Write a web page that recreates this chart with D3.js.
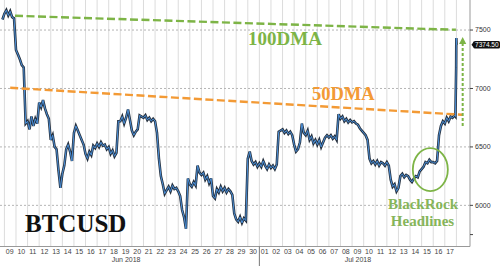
<!DOCTYPE html>
<html>
<head>
<meta charset="utf-8">
<script src="https://cdn.jsdelivr.net/npm/d3@7"></script>
<style>
  html, body { margin: 0; padding: 0; background: #fff; }
  svg { display: block; }
</style>
</head>
<body>
<div id="chart"></div>
<script>
const width = 500, height = 266;

// BTCUSD, one value every 4 hours from Jun 8 20:00
const start = new Date(Date.UTC(2018, 5, 8, 20));
const stepHours = 4;
const prices = [
  7590,
  7640, 7670, 7625, 7660, 7610, 7600,   // Jun 9
  7330, 7290, 7250, 7200, 7180, 6700,   // Jun 10
  6720, 6650, 6760, 6680, 6740, 6700,   // Jun 11
  6880, 6840, 6900, 6830, 6780, 6740,   // Jun 12
  6560, 6600, 6500, 6480, 6300, 6150,   // Jun 13
  6270, 6340, 6480, 6520, 6460, 6380,   // Jun 14
  6620, 6680, 6640, 6600, 6560, 6520,   // Jun 15
  6440, 6400, 6460, 6430, 6510, 6490,   // Jun 16
  6530, 6500, 6540, 6510, 6520, 6480,   // Jun 17
  6500, 6440, 6470, 6420, 6450, 6720,   // Jun 18
  6720, 6760, 6700, 6750, 6820, 6730,   // Jun 19
  6640, 6600, 6630, 6650, 6770, 6760,   // Jun 20
  6750, 6770, 6730, 6750, 6720, 6740,   // Jun 21
  6720, 6620, 6400, 6250, 6180, 6100,   // Jun 22
  6130, 6160, 6120, 6170, 6140, 6150,   // Jun 23
  6120, 6080, 5960, 5900, 5800, 6230,   // Jun 24
  6180, 6160, 6200, 6170, 6340, 6280,   // Jun 25
  6260, 6280, 6220, 6250, 6190, 6230,   // Jun 26
  6080, 6060, 6140, 6110, 6160, 6120,   // Jun 27
  6150, 6110, 6140, 6120, 6090, 5930,   // Jun 28
  5880, 5860, 5900, 5850, 5890, 5870,   // Jun 29
  6400, 6460, 6380, 6350, 6370, 6330,   // Jun 30
  6360, 6330, 6380, 6340, 6310, 6350,   // Jul 1
  6320, 6340, 6310, 6350, 6630, 6640,   // Jul 2
  6650, 6620, 6640, 6610, 6630, 6600,   // Jul 3
  6520, 6460, 6480, 6540, 6700, 6620,   // Jul 4
  6600, 6640, 6560, 6590, 6530, 6560,   // Jul 5
  6520, 6560, 6500, 6540, 6580, 6600,   // Jul 6
  6580, 6600, 6570, 6590, 6560, 6780,   // Jul 7
  6740, 6760, 6720, 6740, 6710, 6730,   // Jul 8
  6710, 6720, 6700, 6690, 6660, 6640,   // Jul 9
  6620, 6600, 6560, 6400, 6360, 6380,   // Jul 10
  6350, 6380, 6340, 6370, 6360, 6340,   // Jul 11
  6370, 6340, 6220, 6160, 6180, 6120,   // Jul 12
  6150, 6250, 6270, 6240, 6260, 6250,   // Jul 13
  6220, 6200, 6230, 6250, 6240, 6290,   // Jul 14
  6310, 6330, 6370, 6360, 6390, 6370,   // Jul 15
  6370, 6360, 6380, 6600, 6680, 6720,   // Jul 16
  6700, 6750, 6720, 6760, 6750, 6770    // Jul 17
];
// the late Jul 17 surge
const tailTimes = ["2018-07-17T22:00Z", "2018-07-17T23:30Z", "2018-07-17T23:50Z", "2018-07-18T00:20Z"];
const tailPrices = [6760, 7180, 7432, 7374.5];
const lastPrice = 7374.5;

const yTicks = [7500, 7000, 6500, 6000];
const yMinorTicks = [5750];
const dma100 = [["2018-06-09T22:00Z", 7622], ["2018-07-17T23:00Z", 7502]];
const dma50 = [["2018-06-09T12:00Z", 7006], ["2018-07-18T12:00Z", 6775]];
const arrowTime = "2018-07-18T13:00Z";
const arrowFrom = 6680, arrowTo = 7440;
const circleAt = ["2018-07-15T18:00Z", 6306];
const months = [["2018-06-19T12:00Z", "Jun 2018"], ["2018-07-09T12:00Z", "Jul 2018"]];
const monthBreak = "2018-07-01T00:00Z";

const series = prices.map((p, i) => ({ t: d3.utcHour.offset(start, i * stepHours), p: p }))
  .concat(tailTimes.map((t, i) => ({ t: new Date(t), p: tailPrices[i] })));

const plotRight = 470, plotBottom = 246.5;

const x = d3.scaleUtc()
  .domain([new Date(Date.UTC(2018, 5, 9)), new Date(Date.UTC(2018, 6, 18))])
  .range([4.4, 456.4]);
const y = d3.scaleLinear()
  .domain([5648, 7757])
  .range([plotBottom, 0]);

const svg = d3.select("#chart").append("svg")
  .attr("width", width)
  .attr("height", height)
  .style("font-family", "'Liberation Sans', Arial, sans-serif");

// vertical day grid
const days = d3.utcDay.range(x.domain()[0], d3.utcDay.offset(x.domain()[1], 1));
svg.append("g").selectAll("line")
  .data(days).enter()
  .append("line")
  .attr("x1", d => x(d)).attr("x2", d => x(d))
  .attr("y1", 0).attr("y2", plotBottom)
  .attr("stroke", "#dcdcdc")
  .attr("stroke-width", 1);

// horizontal dotted grid
svg.append("g").selectAll("line")
  .data(yTicks).enter()
  .append("line")
  .attr("x1", 0).attr("x2", plotRight)
  .attr("y1", d => y(d)).attr("y2", d => y(d))
  .attr("stroke", "#b5b5b5")
  .attr("stroke-dasharray", "2,2");

// price line
const line = d3.line().x(d => x(d.t)).y(d => y(d.p));
svg.append("path").datum(series)
  .attr("fill", "none")
  .attr("stroke", "#26313f")
  .attr("stroke-width", 2.6)
  .attr("stroke-linejoin", "miter")
  .attr("d", line);
svg.append("path").datum(series)
  .attr("fill", "none")
  .attr("stroke", "#4a8fd8")
  .attr("stroke-width", 1)
  .attr("d", line);

// moving averages
const maLine = d3.line().x(d => x(new Date(d[0]))).y(d => y(d[1]));
svg.append("path").datum(dma100)
  .attr("fill", "none").attr("stroke", "#7db446")
  .attr("stroke-width", 2.4).attr("stroke-dasharray", "8,3.5")
  .attr("d", maLine);
svg.append("path").datum(dma50)
  .attr("fill", "none").attr("stroke", "#f39a35")
  .attr("stroke-width", 2.4).attr("stroke-dasharray", "8,3.5")
  .attr("d", maLine);

// arrow up
const ax = x(new Date(arrowTime));
svg.append("line")
  .attr("x1", ax).attr("x2", ax)
  .attr("y1", y(arrowFrom)).attr("y2", y(arrowTo) + 6)
  .attr("stroke", "#7db446").attr("stroke-width", 2)
  .attr("stroke-dasharray", "3,2");
svg.append("path")
  .attr("d", `M${ax},${y(arrowTo)} L${ax - 3.6},${y(arrowTo) + 7} L${ax + 3.6},${y(arrowTo) + 7} Z`)
  .attr("fill", "#7db446");

// blackrock circle
svg.append("ellipse")
  .attr("cx", x(new Date(circleAt[0]))).attr("cy", y(circleAt[1]))
  .attr("rx", 17.5).attr("ry", 21.5)
  .attr("fill", "none").attr("stroke", "#7db446").attr("stroke-width", 1.8);

// axes frame
svg.append("line")
  .attr("x1", 0).attr("x2", plotRight)
  .attr("y1", plotBottom).attr("y2", plotBottom)
  .attr("stroke", "#999");
svg.append("line")
  .attr("x1", plotRight).attr("x2", plotRight)
  .attr("y1", 0).attr("y2", plotBottom)
  .attr("stroke", "#999");

// right axis
const yAxis = svg.append("g");
yAxis.selectAll("line")
  .data(yTicks.concat(yMinorTicks)).enter()
  .append("line")
  .attr("x1", plotRight).attr("x2", plotRight + 3)
  .attr("y1", d => y(d)).attr("y2", d => y(d))
  .attr("stroke", "#444");
yAxis.selectAll("text")
  .data(yTicks).enter()
  .append("text")
  .attr("x", plotRight + 5)
  .attr("y", d => y(d))
  .attr("dy", "0.35em")
  .attr("font-size", 7)
  .attr("fill", "#333")
  .text(d => d);

// last price tag
const ly = y(lastPrice);
svg.append("path")
  .attr("d", `M${plotRight + 1.5},${ly} L${plotRight + 4},${ly - 3.4} L${plotRight + 4},${ly + 3.4} Z`)
  .attr("fill", "#111");
svg.append("rect")
  .attr("x", plotRight + 3.5).attr("y", ly - 3.8)
  .attr("width", 26.5).attr("height", 7.6)
  .attr("rx", 1.5)
  .attr("fill", "#111");
svg.append("text")
  .attr("x", plotRight + 16.8).attr("y", ly)
  .attr("dy", "0.35em")
  .attr("text-anchor", "middle")
  .attr("font-size", 6.5)
  .attr("fill", "#fff")
  .text(lastPrice.toFixed(2));

// day labels
const dayLabels = d3.utcDay.range(x.domain()[0], x.domain()[1]);
svg.append("g").selectAll("text")
  .data(dayLabels).enter()
  .append("text")
  .attr("x", d => x(d3.utcHour.offset(d, 12)) - 0.5)
  .attr("y", 253.5)
  .attr("text-anchor", "middle")
  .attr("font-size", 7)
  .attr("fill", "#444")
  .text(d3.utcFormat("%d"));

// month labels
svg.append("g").selectAll("text")
  .data(months).enter()
  .append("text")
  .attr("x", d => x(new Date(d[0])))
  .attr("y", 262)
  .attr("text-anchor", "middle")
  .attr("font-size", 7)
  .attr("fill", "#444")
  .text(d => d[1]);
svg.append("line")
  .attr("x1", x(new Date(monthBreak))).attr("x2", x(new Date(monthBreak)))
  .attr("y1", plotBottom).attr("y2", height)
  .attr("stroke", "#777");

// annotations
const serif = "'Liberation Serif', 'Times New Roman', serif";
svg.append("text")
  .attr("x", 248).attr("y", 45)
  .attr("font-family", serif).attr("font-weight", "bold")
  .attr("font-size", 19).attr("fill", "#7db446")
  .text("100DMA");
svg.append("text")
  .attr("x", 312).attr("y", 100)
  .attr("font-family", serif).attr("font-weight", "bold")
  .attr("font-size", 18.5).attr("fill", "#f39a35")
  .text("50DMA");
svg.append("text")
  .attr("x", 25).attr("y", 232)
  .attr("font-family", serif).attr("font-weight", "bold")
  .attr("font-size", 25).attr("fill", "#111")
  .text("BTCUSD");
svg.append("text")
  .attr("x", 423).attr("y", 208.5)
  .attr("text-anchor", "middle")
  .attr("font-family", serif).attr("font-weight", "bold")
  .attr("font-size", 15).attr("fill", "#86b55a")
  .text("BlackRock");
svg.append("text")
  .attr("x", 422.5).attr("y", 225.5)
  .attr("text-anchor", "middle")
  .attr("font-family", serif).attr("font-weight", "bold")
  .attr("font-size", 15).attr("fill", "#86b55a")
  .text("Headlines");
</script>
</body>
</html>
